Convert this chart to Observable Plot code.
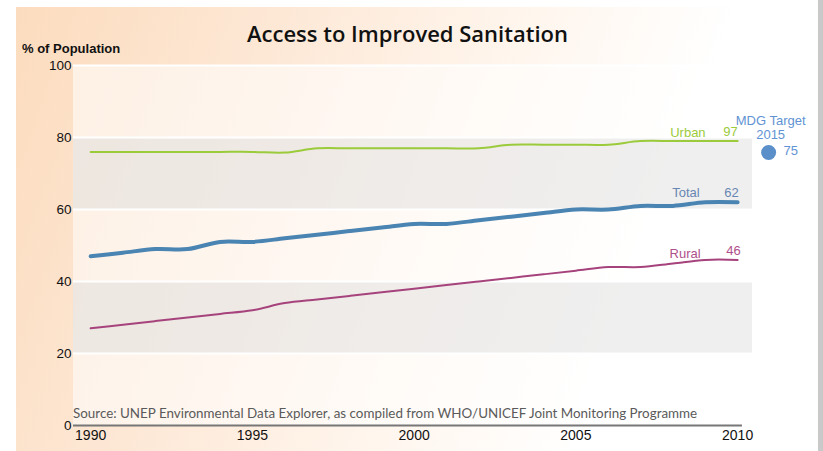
<!DOCTYPE html>
<html>
<head>
<meta charset="utf-8">
<script src="https://cdn.jsdelivr.net/npm/d3@7"></script>
<script src="https://cdn.jsdelivr.net/npm/@observablehq/plot@0.6"></script>
<style>
  html, body { margin: 0; padding: 0; background: #fff; }
  #wrap { position: relative; width: 823px; height: 451px; overflow: hidden; background: #fff; }
  #panel { position: absolute; left: 16px; top: 7px; width: 802px; height: 444px;
    background: linear-gradient(110deg, #fcdcbe 0%, #fde8d6 28%, #fff5ec 52%, #ffffff 75%); }
  #edge { position: absolute; left: 818px; top: 0; width: 5px; height: 451px; background: #c9c9c9; }
  #title { position: absolute; left: 0; width: 815px; top: 18px; text-align: center;
    font: 600 22px "Open Sans", sans-serif; color: #111; }
  #ylabel { position: absolute; left: 22px; top: 41px; font: 700 13px "Liberation Sans", Arial, sans-serif; color: #111; }
  #source { position: absolute; left: 73px; top: 405px; font: 400 13.4px "Lato", sans-serif; color: #5a5a5a; }
  #chart { position: absolute; left: 0; top: 0; }
</style>
</head>
<body>
<div id="wrap">
  <div id="panel"></div>
  <div id="edge"></div>
  <div id="chart"></div>
  <div id="title">Access to Improved Sanitation</div>
  <div id="ylabel">% of Population</div>
  <div id="source">Source: UNEP Environmental Data Explorer, as compiled from WHO/UNICEF Joint Monitoring Programme</div>
</div>
<script>
// Share of population with access to improved sanitation, 1990–2010
const years = [1990, 1991, 1992, 1993, 1994, 1995, 1996, 1997, 1998, 1999, 2000,
               2001, 2002, 2003, 2004, 2005, 2006, 2007, 2008, 2009, 2010];
const urban = [76, 76, 76, 76, 76, 76, 75.8, 77, 77, 77, 77, 77, 77, 78, 78, 78, 78, 79, 79, 79, 79];
const total = [47, 48, 49, 49, 51, 51, 52, 53, 54, 55, 56, 56, 57, 58, 59, 60, 60, 61, 61, 62, 62];
const rural = [27, 28, 29, 30, 31, 32, 34, 35, 36, 37, 38, 39, 40, 41, 42, 43, 44, 44, 45, 46, 46];

const seriesNames = ["Urban", "Total", "Rural"];
const endValueLabels = ["97", "62", "46"];
const xTicks = [1990, 1995, 2000, 2005, 2010];
const yTicks = [0, 20, 40, 60, 80, 100];
const bandRanges = [[20, 40], [60, 80]];

const targetLabel = ["MDG Target", "2015"];
const targetValue = 75;

const seriesValues = [urban, total, rural];
const colors = {Urban: "#9bcb3b", Total: "#4a84b2", Rural: "#a6437c"};
const labelColors = {Urban: "#9bcb3b", Total: "#6786b2", Rural: "#b0508a"};
const widths = {Urban: 2, Total: 4, Rural: 2};

const rows = seriesNames.flatMap((name, i) =>
  years.map((year, j) => ({series: name, year, value: seriesValues[i][j]})));
const lastYear = years[years.length - 1];
const ends = seriesNames.map((name, i) => ({
  series: name,
  year: lastYear,
  value: seriesValues[i][seriesValues[i].length - 1],
  label: endValueLabels[i]
}));
const bands = bandRanges.map(([lo, hi]) => ({lo, hi}));

const xDomain = [1989.47, 2010.46];
const font = '"Liberation Sans", Arial, sans-serif';

const nameDy = {Urban: -8, Total: -9, Rural: -6};
const nameDx = {Urban: -32, Total: -38, Rural: -37};
const valueDy = {Urban: -9, Total: -9, Rural: -9};
const valueDx = {Urban: 0, Total: 1, Rural: 3};

const marks = [
  // lighter plotting field
  Plot.rect([{lo: 0, hi: 100}], {x1: xDomain[0], x2: xDomain[1], y1: "lo", y2: "hi", fill: "#ffffff", fillOpacity: 0.55}),
  // grey bands
  Plot.rect(bands, {x1: xDomain[0], x2: xDomain[1], y1: "lo", y2: "hi", fill: "#d6d6d6", fillOpacity: 0.4}),
  // white grid lines
  Plot.ruleY(yTicks.filter(d => d > 0), {x1: xDomain[0], x2: xDomain[1], stroke: "#ffffff", strokeWidth: 2}),
  // baseline
  Plot.ruleY([0], {x1: xDomain[0], x2: 2010.15, stroke: "#777", strokeWidth: 2}),
  Plot.axisX({ticks: xTicks, tickSize: 0, tickPadding: 5, tickFormat: d => String(d), label: null, fontSize: 14, fill: "#111"}),
  Plot.axisY({ticks: yTicks, tickSize: 0, tickPadding: 2, label: null, fontSize: 13.5, fill: "#111"}),
  ...seriesNames.map(name =>
    Plot.lineY(rows.filter(d => d.series === name), {
      x: "year", y: "value", stroke: colors[name], strokeWidth: widths[name], curve: "catmull-rom"
    })),
  ...ends.map(d => Plot.text([d], {
    x: "year", y: "value", text: "series", textAnchor: "end",
    dx: nameDx[d.series], dy: nameDy[d.series], fill: labelColors[d.series], fontSize: 13
  })),
  ...ends.map(d => Plot.text([d], {
    x: "year", y: "value", text: "label", textAnchor: "end",
    dx: valueDx[d.series], dy: valueDy[d.series], fill: labelColors[d.series], fontSize: 13
  })),
  // 2015 target marker
  Plot.dot([targetValue], {x: () => lastYear, y: d => d, dx: 31, dy: -3, r: 7.5, fill: "#5b8fca", stroke: "none"}),
  Plot.text([targetValue], {x: () => lastYear, y: d => d, text: d => String(d), dx: 46, dy: -4.5, textAnchor: "start", fill: "#5f93d3", fontSize: 13}),
  Plot.text([targetLabel[0]], {x: () => lastYear, y: () => targetValue, text: d => d, dx: 33, dy: -34.5, fill: "#5f93d3", fontSize: 13}),
  Plot.text([targetLabel[1]], {x: () => lastYear, y: () => targetValue, text: d => d, dx: 33, dy: -20.5, fill: "#5f93d3", fontSize: 13})
];

const chart = Plot.plot({
  width: 823,
  height: 451,
  marginLeft: 73,
  marginRight: 71,
  marginTop: 65,
  marginBottom: 26,
  x: {domain: xDomain},
  y: {domain: [0, 100]},
  style: {background: "transparent", fontFamily: font, fontSize: "13px", overflow: "visible"},
  marks
});
document.getElementById("chart").appendChild(chart);
</script>
</body>
</html>
